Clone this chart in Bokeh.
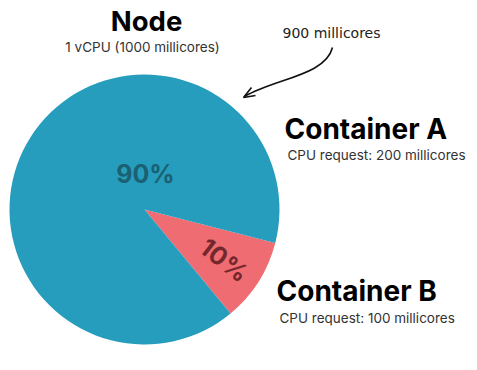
import numpy as np
from bokeh.plotting import figure
from bokeh.models import Range1d, Label, ColumnDataSource
from bokeh.embed import file_html
from bokeh.resources import INLINE
from bokeh.core.properties import value

# ---- data ----
segments = ["Container B", "Container A"]
millicores = [100, 900]
pct_labels = ["10%", "90%"]
colors = ["#f06c73", "#269dbd"]
label_colors = ["#74282d", "#1c6073"]
node_title = "Node"
node_sub = "1 vCPU (1000 millicores)"
cont_titles = ["Container A", "Container B"]
cont_subs = ["CPU request: 200 millicores", "CPU request: 100 millicores"]
note = "900 millicores"

W, H = 477, 370
FONT = "Inter"

p = figure(width=W, height=H, output_backend="svg", toolbar_location=None,
           x_range=Range1d(0, W), y_range=Range1d(0, H), min_border=0)
p.axis.visible = False
p.grid.visible = False
p.outline_line_color = None
p.background_fill_color = "white"
p.border_fill_color = "white"

def Y(py):
    return H - py

cx, cy, r = 144, Y(209), 135
vals = np.array(millicores, dtype=float)
frac = vals / vals.sum()
start0 = np.deg2rad(-50.4)
ends = start0 + np.cumsum(frac) * 2 * np.pi
starts = np.concatenate([[start0], ends[:-1]])
src = ColumnDataSource(dict(seg=segments, start=starts, end=ends, color=colors))
p.wedge(x=cx, y=cy, radius=r, start_angle="start", end_angle="end",
        fill_color="color", line_color=None, source=src)

# percent labels
mid_b = (starts[0] + ends[0]) / 2
p.add_layout(Label(x=cx + 0.70 * r * np.cos(mid_b), y=cy + 0.70 * r * np.sin(mid_b),
                   text=pct_labels[0], text_font=FONT, text_font_style="bold",
                   text_font_size="25px", text_color=label_colors[0],
                   text_align="center", text_baseline="middle", angle=-0.66))
p.add_layout(Label(x=cx + 1, y=Y(173), text=pct_labels[1], text_font=FONT,
                   text_font_style="bold", text_font_size="25px",
                   text_color=label_colors[1], text_align="center",
                   text_baseline="middle"))

# titles
p.add_layout(Label(x=146, y=Y(20), text=node_title, text_font=FONT,
                   text_font_style="bold", text_font_size="27.5px", text_color="#000",
                   text_align="center", text_baseline="middle"))
p.add_layout(Label(x=142, y=Y(46), text=node_sub, text_font=FONT,
                   text_font_size="13.5px", text_color="#333",
                   text_align="center", text_baseline="middle"))

for txt, sub, x, ty, sy in [(cont_titles[0], cont_subs[0], 284, 128, 154),
                            (cont_titles[1], cont_subs[1], 276, 290, 317)]:
    p.add_layout(Label(x=x, y=Y(ty), text=txt, text_font=FONT, text_font_style="bold",
                       text_font_size="28px", text_color="#000",
                       text_align="left", text_baseline="middle"))
    p.add_layout(Label(x=x + 3, y=Y(sy), text=sub, text_font=FONT,
                       text_font_size="13.5px", text_color="#333",
                       text_align="left", text_baseline="middle"))

# handwritten note + arrow
p.add_layout(Label(x=331, y=Y(32), text=note, text_font="DejaVu Sans",
                   text_font_style="normal", text_font_size="14px", text_color="#222",
                   text_align="center", text_baseline="middle"))
p.bezier(x0=[332], y0=[Y(47)], x1=[244], y1=[Y(96)],
         cx0=[325], cy0=[Y(75)], cx1=[275], cy1=[Y(78)],
         line_color="#111", line_width=1.6)
p.multi_line(xs=[[251, 243, 255]], ys=[[Y(87), Y(97), Y(95)]],
             line_color="#111", line_width=1.6)

open("out.html", "w").write(file_html(p, INLINE))
